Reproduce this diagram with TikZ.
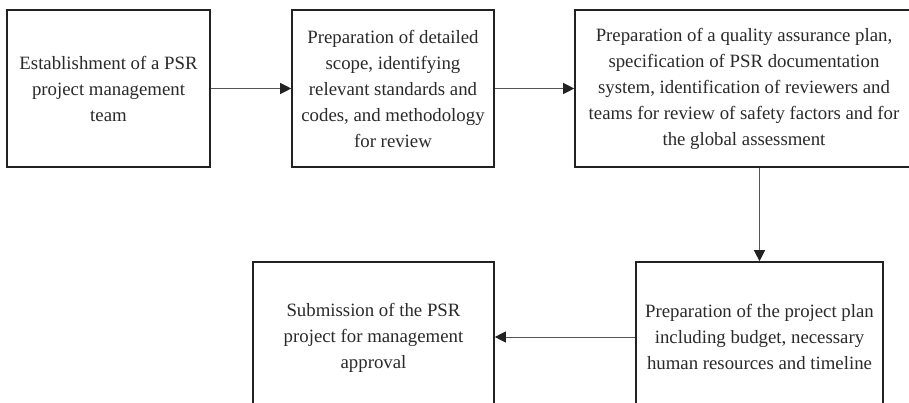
\documentclass[tikz,border=0pt]{standalone}
\usepackage{fontspec}
\setmainfont{Liberation Serif}
\usepackage{xcolor}
\usetikzlibrary{positioning,arrows.meta}
\definecolor{boxline}{HTML}{222222}
\definecolor{arrline}{HTML}{555555}
\definecolor{txt}{HTML}{2A2A2A}

\begin{document}
\begin{tikzpicture}[
  x=1pt, y=-1pt,
  font=\fontsize{18.8pt}{26pt}\selectfont,
  stepbox/.style={draw=boxline, line width=1.6pt, align=center, inner sep=0pt,
                  text=txt, fill=white},
  arr/.style={-{Triangle[length=11pt, width=11pt, color=boxline]}, line width=0.8pt, arrline}
]
% ----- frame (the reference is cropped on the right and bottom) -----
\useasboundingbox (0,0) rectangle (909,403);
\clip (0,0) rectangle (909,403);
% ----- top row -----
\node[stepbox, minimum width=203pt, minimum height=157pt] (team) at (108.5,88.5)
  {Establishment of a PSR\\project management\\team};
\node[stepbox, minimum width=202pt, minimum height=157pt] (scope) at (393,88.5)
  {Preparation of detailed\\scope, identifying\\relevant standards and\\codes, and methodology\\for review};
\node[stepbox, minimum width=338pt, minimum height=157pt] (qa) at (744,88.5)
  {Preparation of a quality assurance plan,\\specification of PSR documentation\\system, identification of reviewers and\\teams for review of safety factors and for\\the global assessment};
% ----- bottom row -----
\node[stepbox, minimum width=247pt, minimum height=150pt] (plan) at (759.5,337)
  {Preparation of the project plan\\including budget, necessary\\human resources and timeline};
\node[stepbox, minimum width=241pt, minimum height=152pt] (subm) at (373.5,338)
  {Submission of the PSR\\project for management\\approval};
% ----- connectors -----
\draw[arr] (team) -- (scope);
\draw[arr] (scope) -- (qa);
\draw[arr] (plan.north |- qa.south) -- (plan.north);
\draw[arr] (plan.west) -- (subm.east |- plan.west);
\end{tikzpicture}
\end{document}
